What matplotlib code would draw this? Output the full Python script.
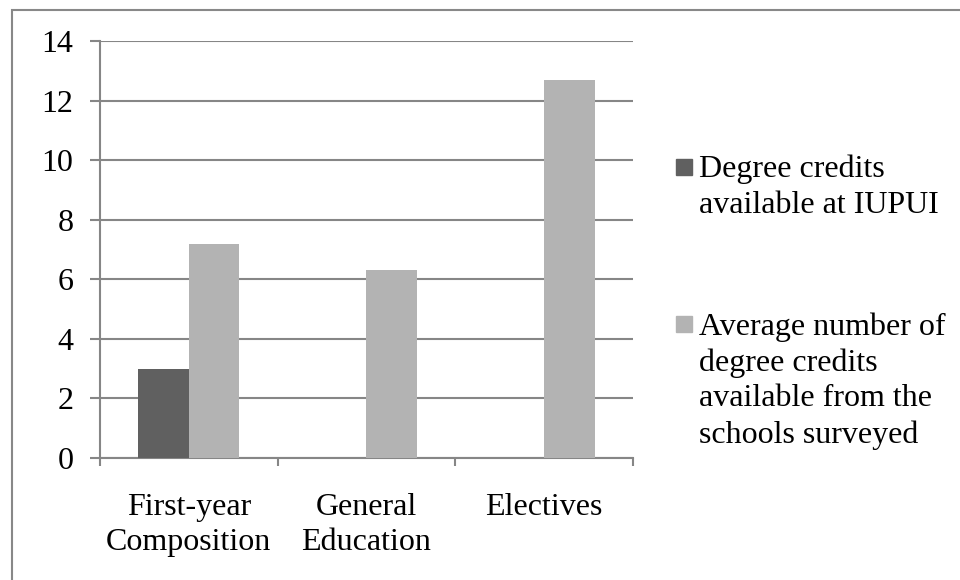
import numpy as np
from matplotlib import pyplot as plt
from matplotlib.patches import Rectangle

categories = ['First-year\nComposition', 'General\nEducation', 'Electives']
iupui = [3, 0, 0]
surveyed = [7.2, 6.3, 12.7]
series_names = ['Degree credits\navailable at IUPUI',
                'Average number of\ndegree credits\navailable from the\nschools surveyed']
yticks = [0, 2, 4, 6, 8, 10, 12, 14]

dark = '#606060'
light = '#b3b3b3'
grid = '#868686'

plt.rcParams['font.family'] = ['Liberation Serif', 'DejaVu Serif']
plt.rcParams['font.size'] = 23

fig = plt.figure(figsize=(9.6, 5.8), dpi=100)
W, H = 960, 580
ax = fig.add_axes([100 / W, 1 - 458 / H, 533 / W, 417 / H])

x = np.arange(len(categories))
bw = 0.284
ax.bar(x - bw / 2, iupui, bw, color=dark, zorder=3)
ax.bar(x + bw / 2, surveyed, bw, color=light, zorder=3)

ax.set_xlim(-0.5, len(categories) - 0.5)
ax.set_ylim(0, 14)
ax.set_yticks(yticks)
ax.yaxis.grid(True, color=grid, linewidth=1.5, zorder=0)
ax.set_axisbelow(True)

ax.set_xticks(x)
ax.set_xticklabels(categories)
for t in ax.get_xticklabels():
    t.set_linespacing(1.3)
ax.set_xticks(np.arange(-0.5, len(categories)), minor=True)
ax.tick_params(axis='x', which='major', length=0, pad=25)
ax.tick_params(axis='x', which='minor', length=6, width=1.5, color=grid)
ax.tick_params(axis='y', length=7, width=1.5, color=grid, pad=12)

for s in ['top', 'right']:
    ax.spines[s].set_visible(False)
for s in ['left', 'bottom']:
    ax.spines[s].set_color(grid)
    ax.spines[s].set_linewidth(1.5)

# legend, Excel style: marker beside first line of each entry
legend_rows = [(series_names[0], dark, 155, 159), (series_names[1], light, 312, 316)]
for label, col, ytop, sqtop in legend_rows:
    fig.patches.append(Rectangle((676 / W, 1 - (sqtop + 16) / H), 16 / W, 16 / H,
                                 transform=fig.transFigure, color=col))
    fig.text(699 / W, 1 - ytop / H, label, va='top', ha='left', linespacing=1.3)

# outer chart border
fig.patches.append(Rectangle((12 / W, -0.1), 1.2, 1.1 - 10 / H, transform=fig.transFigure,
                             fill=False, edgecolor='#888888', linewidth=1.5))

fig.savefig('out.png', dpi=100)
